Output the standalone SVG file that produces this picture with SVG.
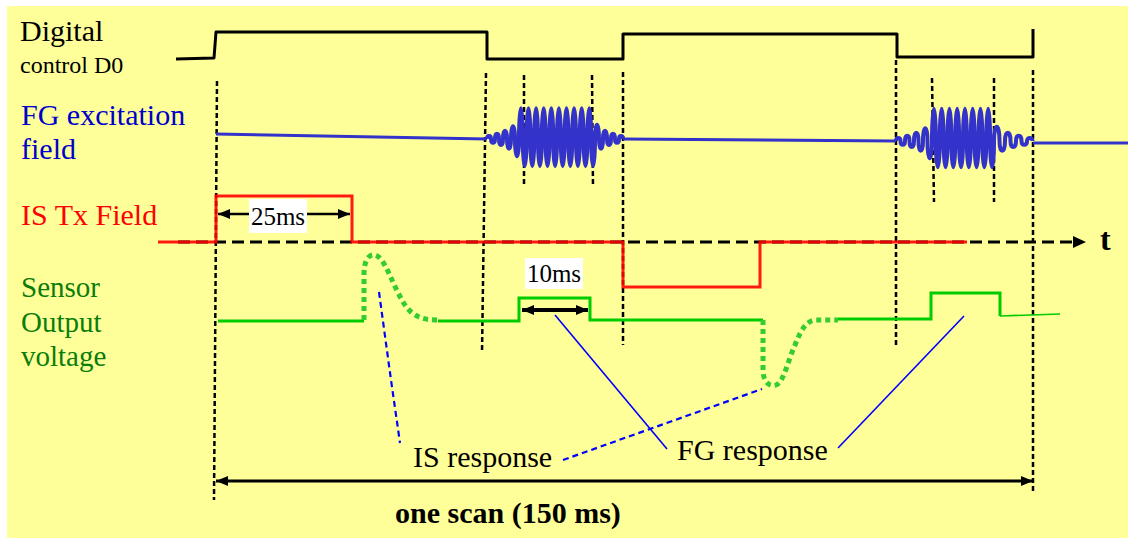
<svg xmlns="http://www.w3.org/2000/svg" width="1128" height="538" viewBox="0 0 1128 538">
<style>
text{font-family:"Liberation Serif","Times New Roman",serif}
.lbl{font-size:30px}
.vd{fill:none;stroke:#000;stroke-width:2.5;stroke-dasharray:5 3}
.gs{fill:none;stroke:#00CC00;stroke-width:3;stroke-linejoin:miter}
.gd{fill:none;stroke:#33CC33;stroke-width:5;stroke-dasharray:5 4}
.fg{fill:none;stroke:#3333CC;stroke-width:3;stroke-linejoin:round}
.bl{fill:none;stroke:#0000FF;stroke-width:1.6}
.bld{fill:none;stroke:#0000FF;stroke-width:2.2;stroke-dasharray:6 4}
.dim{fill:none;stroke:#000;marker-start:url(#ah);marker-end:url(#ah)}
</style>
<defs>
<marker id="ah" viewBox="0 0 12 10" refX="12" refY="5" markerWidth="12" markerHeight="10" markerUnits="userSpaceOnUse" orient="auto-start-reverse"><path d="M0,0 L12,5 L0,10 z" fill="#000"/></marker>
</defs>
<rect x="7" y="6" width="1121" height="532" fill="#FFFF99"/>

<g id="guides">
<path class="vd" d="M217,81 L214,500"/>
<path class="vd" d="M486,73 L482,353"/>
<path class="vd" d="M524,75 L524,187"/>
<path class="vd" d="M592,75 L593,187"/>
<path class="vd" d="M623,72 L623,345"/>
<path class="vd" d="M896,60 L896,346"/>
<path class="vd" d="M932,78 L934,202"/>
<path class="vd" d="M994,78 L994,202"/>
<path class="vd" d="M1033,70 L1033,493"/>
</g>

<g id="digital-control">
<text x="20" y="41" style="font-size:30px">Digital</text>
<text x="20" y="73" style="font-size:24px">control D0</text>
<path d="M176,59 L214,58 L216,32 L487,32 L487,59 L623,59 L623,34 L897,34 L897,57 L1033,57 L1033,29" fill="none" stroke="#000" stroke-width="3" stroke-linejoin="round"/>
</g>

<g id="fg-excitation">
<text class="lbl" x="21" y="125" fill="#0000CC">FG excitation</text>
<text class="lbl" x="21" y="159" fill="#0000CC">field</text>
<path class="fg" d="M216,134 L487,139"/>
<path class="fg" style="stroke-width:4" d="M487,139 c0,-4 4,-4 4,0 c0,5 4,5 4,0 c0,-7 4,-7 4,0 c0,8 4,8 4,0 c0,-11 4,-11 4,0 c0,13 4,13 4,0 c0,-17 4,-17 4,0 c0,23 4,23 4,0
c0,-41 3.8,-41 3.8,0 c0,36 3.8,36 3.8,0 c0,-41 3.8,-41 3.8,0 c0,36 3.8,36 3.8,0 c0,-41 3.8,-41 3.8,0 c0,36 3.8,36 3.8,0 c0,-41 3.8,-41 3.8,0 c0,36 3.8,36 3.8,0 c0,-41 3.8,-41 3.8,0 c0,36 3.8,36 3.8,0
c0,-41 3.8,-41 3.8,0 c0,36 3.8,36 3.8,0 c0,-41 3.8,-41 3.8,0 c0,36 3.8,36 3.8,0 c0,-41 3.8,-41 3.8,0 c0,36 3.8,36 3.8,0 c0,-41 3.8,-41 3.8,0 c0,36 3.8,36 3.8,0 c0,-41 3.8,-41 3.8,0 c0,36 3.8,36 3.8,0
c0,-19 4,-19 4,0 c0,13 4,13 4,0 c0,-11 4,-11 4,0 c0,8 4,8 4,0 c0,-7 4,-7 4,0 c0,5 4,5 4,0 c0,-4 4,-4 4,0"/>
<path class="fg" d="M623,139 L896,141"/>
<path class="fg" style="stroke-width:4" d="M896,141 c0,-4 4.5,-4 4.5,0 c0,5 4.5,5 4.5,0 c0,-7 4.5,-7 4.5,0 c0,8 4.5,8 4.5,0 c0,-11 4.5,-11 4.5,0 c0,13 4.5,13 4.5,0 c0,-17 4.5,-17 4.5,0 c0,23 4.5,23 4.5,0
c0,-43 3.875,-43 3.875,0 c0,35 3.875,35 3.875,0 c0,-43 3.875,-43 3.875,0 c0,35 3.875,35 3.875,0 c0,-43 3.875,-43 3.875,0 c0,35 3.875,35 3.875,0 c0,-43 3.875,-43 3.875,0 c0,35 3.875,35 3.875,0
c0,-43 3.875,-43 3.875,0 c0,35 3.875,35 3.875,0 c0,-43 3.875,-43 3.875,0 c0,35 3.875,35 3.875,0 c0,-43 3.875,-43 3.875,0 c0,35 3.875,35 3.875,0 c0,-43 3.875,-43 3.875,0 c0,35 3.875,35 3.875,0
c0,-19 5.5,-19 5.5,0 c0,13 5.5,13 5.5,0 c0,-11 5.5,-11 5.5,0 c0,8 5.5,8 5.5,0 c0,-7 5.5,-7 5.5,0 c0,5 5.5,5 5.5,0 c0,-4 5.5,-4 5.5,0"/>
<path class="fg" d="M1033,143 L1128,143"/>
</g>

<g id="time-axis">
<path d="M178,242 L1073,242" fill="none" stroke="#000" stroke-width="3" stroke-dasharray="12 6"/>
<path d="M1073,236 L1086,242 L1073,248 z" fill="#000"/>
<text x="1100" y="250" style="font-size:32px;font-weight:bold">t</text>
</g>

<g id="is-tx-field">
<text class="lbl" x="21" y="225" fill="#FF0000">IS Tx Field</text>
<path d="M158,242 L216,242 L216,196 L352,196 L352,242 L623,242 L623,287 L760,287 L760,242 L967,242" fill="none" stroke="#FF0000" stroke-width="3" stroke-opacity="0.9"/>
</g>

<g id="sensor-output">
<text x="21" y="297" fill="#0A7D0A" style="font-size:29px">Sensor</text>
<text x="21" y="332" fill="#0A7D0A" style="font-size:29px">Output</text>
<text x="21" y="366" fill="#0A7D0A" style="font-size:29px">voltage</text>
<path class="gs" d="M218,321 L364,321"/>
<path class="gd" d="M364,320 L364,275 C364,258 370,254 375,255 C385,257 392,285 405,305 C414,318 425,320 438,320"/>
<path class="gs" d="M438,321 L519,321 L519,298 L590,298 L590,320 L763,320"/>
<path class="gd" d="M763,320 L763,372 C764,383 770,387 776,385 C784,382 788,360 795,345 C801,330 806,321 815,320 L838,320"/>
<path class="gs" d="M838,319 L931,319 L931,293 L1000,293 L1000,316"/>
<path d="M1000,316 L1060,314" fill="none" stroke="#00CC00" stroke-width="1.6"/>
</g>

<g id="labels">
<text class="lbl" x="413" y="467">IS response</text>
<text class="lbl" x="677" y="460">FG response</text>
<text x="395" y="523" style="font-size:30px;font-weight:bold">one scan (150 ms)</text>
</g>

<g id="connectors">
<path class="bld" d="M379,292 L391,380 L400,443"/>
<path class="bld" d="M563,460 L762,389"/>
<path class="bl" d="M555,315 L667,449"/>
<path class="bl" d="M838,448 L964,316"/>
<path class="dim" style="stroke-width:2.5" d="M218,214 L350,214"/>
<path class="dim" style="stroke-width:4" d="M522,310 L588,310"/>
<path class="dim" style="stroke-width:3" d="M216,481 L1033,481"/>
</g>

<g id="dim-25ms">
<rect x="249" y="199" width="58" height="34" fill="#FFFFFF"/>
<text x="278" y="225" text-anchor="middle" style="font-size:25px">25ms</text>
</g>
<g id="dim-10ms">
<rect x="525" y="258" width="58" height="31" fill="#FFFFFF"/>
<text x="554" y="282" text-anchor="middle" style="font-size:25px">10ms</text>
</g>
</svg>
